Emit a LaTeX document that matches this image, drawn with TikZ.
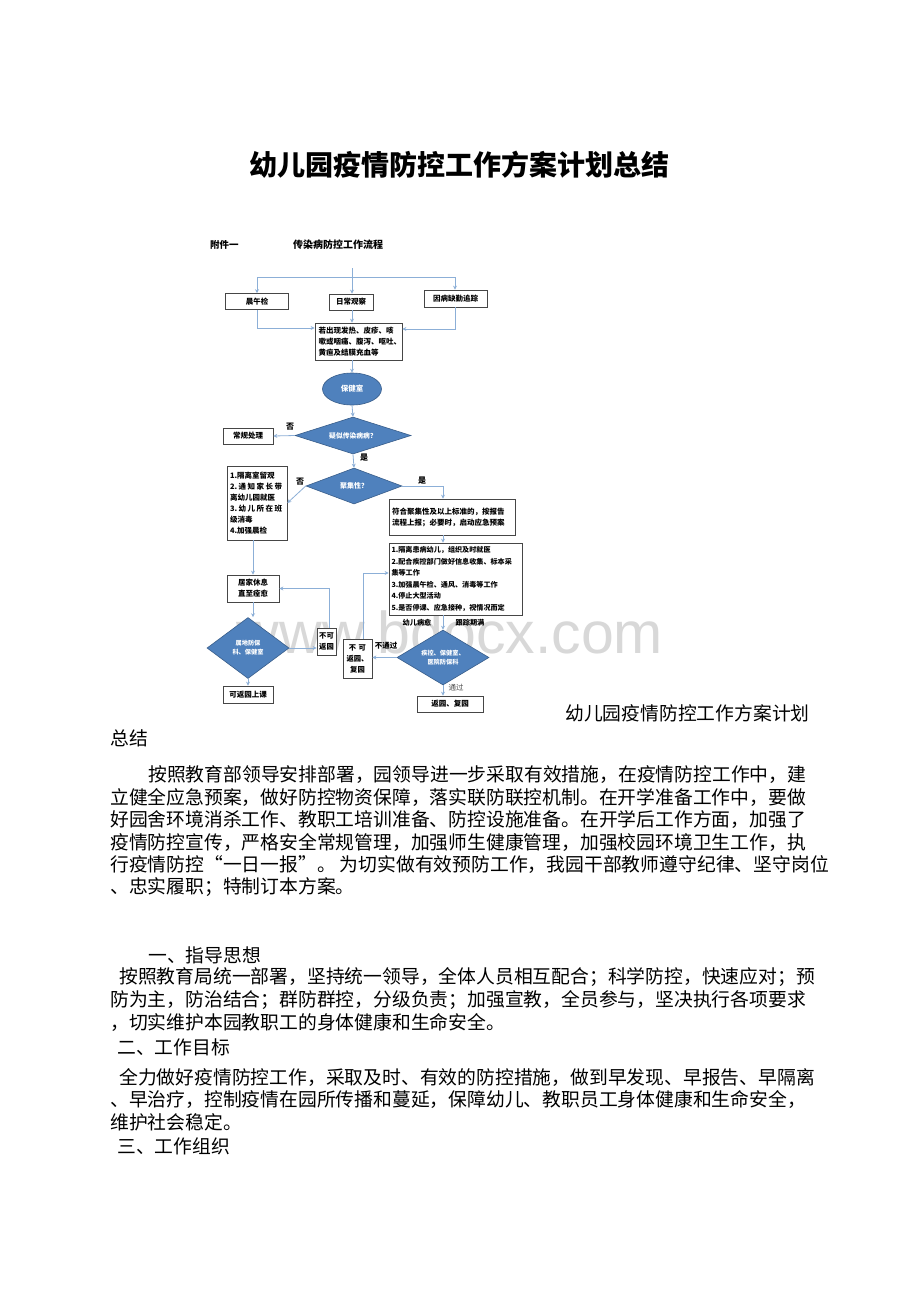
\documentclass[tikz,border=0pt]{standalone}
\usepackage{fontspec}
\setmainfont{Noto Sans CJK SC}
\newfontfamily\wmfont{Liberation Sans}
\usetikzlibrary{shapes.geometric,arrows.meta,calc}
\definecolor{conn}{RGB}{140,175,215}
\definecolor{dfill}{RGB}{79,129,189}
\definecolor{dline}{RGB}{56,93,138}
\definecolor{boxline}{RGB}{70,70,70}
\definecolor{wmgray}{RGB}{216,216,216}
\tikzset{
  body/.style={anchor=west,inner sep=0pt,font=\fontsize{18.8}{22}\selectfont},
  box/.style={draw=boxline,line width=0.7pt,fill=white,inner sep=1pt,font=\bfseries\fontsize{7.5}{11}\selectfont},
  dia/.style={diamond,draw=dline,line width=0.6pt,fill=dfill,inner sep=0pt},
  wtext/.style={text=white,font=\bfseries\fontsize{6.2}{9}\selectfont,align=center,inner sep=0pt},
  lab/.style={inner sep=0pt,font=\bfseries\fontsize{8}{10}\selectfont},
  conn/.style={draw=conn,line width=0.8pt},
  arr/.style={conn,-{Stealth[length=4pt,width=4pt]}},
}
\newcommand{\jline}[1]{\leavevmode\hbox to 52pt{#1}}
\begin{document}
\begin{tikzpicture}[x=1pt,y=-1pt]
\useasboundingbox[fill=white] (0,0) rectangle (920,1302);
% watermark (behind the chart)
\node[inner sep=0pt,font=\wmfont\fontsize{59}{60}\selectfont,text=wmgray] (wm) at (450,632) {www.bdocx.com};
% title
\node[inner sep=0pt,font=\bfseries\fontsize{28}{32}\selectfont] (title) at (459,165) {幼儿园疫情防控工作方案计划总结};
% flowchart header
\node[lab,anchor=west,font=\bfseries\fontsize{9.5}{11}\selectfont] (fj) at (210,245) {附件一};
\node[lab,anchor=west,font=\bfseries\fontsize{10}{11}\selectfont] (lc) at (293,245) {传染病防控工作流程};
% boxes
\node[box,minimum width=63pt,minimum height=16pt] (b1) at (257,301.5) {晨午检};
\node[box,minimum width=44pt,minimum height=16pt] (b2) at (351,302) {日常观察};
\node[box,minimum width=63pt,minimum height=17pt] (b3) at (455.5,298.5) {因病缺勤追踪};
\node[box,minimum width=87pt,minimum height=37pt,align=left,text width=80pt] (sym) at (358.5,341.5) {若出现发热、皮疹、咳\\嗽或咽痛、腹泻、呕吐、\\黄疸及结膜充血等};
\node[ellipse,draw=dline,line width=0.6pt,fill=dfill,minimum width=59pt,minimum height=32pt,inner sep=0pt] (hc) at (352,389) {};
\node[wtext,font=\bfseries\fontsize{7.5}{9}\selectfont] (hct) at (hc) {保健室};
\node[dia,minimum width=116pt,minimum height=37pt] (d1) at (353,435.5) {};
\node[wtext,font=\bfseries\fontsize{6.8}{9}\selectfont] (d1t) at (d1) {疑似传染病病？};
\node[box,minimum width=50pt,minimum height=16pt] (cg) at (248,436) {常规处理};
\node[dia,minimum width=96pt,minimum height=36pt] (d2) at (354,486) {};
\node[wtext,font=\bfseries\fontsize{7}{9}\selectfont] (d2t) at (d2) {聚集性？};
\node[box,minimum width=60pt,minimum height=74pt,align=left,text width=54pt] (iso) at (257,503) {1.隔离室留观\\\jline{2.\hfill 通\hfill 知\hfill 家\hfill 长\hfill 带}\\离幼儿园就医\\\jline{3.\hfill 幼\hfill 儿\hfill 所\hfill 在\hfill 班}\\级消毒\\4.加强晨检};
\node[box,minimum width=126pt,minimum height=36pt,align=left,text width=120pt] (rep) at (452,517) {符合聚集性及以上标准的，按报告\\流程上报；必要时，启动应急预案};
\node[box,minimum width=133pt,minimum height=72pt,align=left,text width=128pt,font=\bfseries\fontsize{7.1}{11.5}\selectfont] (act) at (455.5,579) {1.隔离患病幼儿，组织及时就医\\2.配合疾控部门做好信息收集、标本采\\集等工作\\3.加强晨午检、通风、消毒等工作\\4.停止大型活动\\5.是否停课、应急接种，视情况而定};
\node[box,minimum width=52pt,minimum height=27pt,align=center] (home) at (253,588.5) {居家休息\\直至痊愈};
\node[dia,minimum width=82pt,minimum height=61pt] (d3) at (248,648) {};
\node[wtext] (d3t) at (d3) {属地防保\\科、保健室};
\node[box,minimum width=50pt,minimum height=17pt] (back) at (248,694.5) {可返园上课};
\node[box,minimum width=19pt,minimum height=27pt,align=center,inner sep=0pt,font=\bfseries\fontsize{7.3}{11}\selectfont] (n1) at (326.5,641.5) {不可\\返园};
\node[box,minimum width=29pt,minimum height=39pt,align=center,inner sep=0pt,font=\bfseries\fontsize{7.3}{11}\selectfont] (n2) at (357.5,658.5) {不\,\,可\\返园、\\复园};
\node[dia,minimum width=92pt,minimum height=55pt] (d4) at (443,657.5) {};
\node[wtext] (d4t) at (d4) {疾控、保健室、\\医院防保科};
\node[box,minimum width=66pt,minimum height=16pt] (ret) at (450,704) {返园、复园};
% connectors
\coordinate (top) at (352,268);
\coordinate (tl) at (257,277);
\coordinate (tc) at (352,277);
\coordinate (tr) at (455,277);
\draw[conn] (tl) -- (tr);
\draw[conn] (top) -- (tc);
\draw[arr] (tl) -- (b1.north);
\draw[arr] (tc) -- (tc |- b2.north);
\draw[arr] (tr) -- (tr |- b3.north);
\coordinate (l1) at (sym.west |- 0,328);
\coordinate (r1) at (sym.east |- 0,329);
\draw[arr] (b1.south) |- (l1);
\draw[arr] (tc |- b2.south) -- (tc |- sym.north);
\draw[arr] (tr |- b3.south) |- (r1);
\draw[arr] (hc.north |- sym.south) -- (hc.north);
\draw[arr] (hc.south) -- (d1.north);
\draw[arr] (d1.west) -- (cg.east);
\node[lab] (no1) at (290,427) {否};
\draw[arr] (d1.south) -- (d2.north);
\node[lab] (yes1) at (364,458) {是};
\draw[arr] (d2.west) -- (iso.east);
\node[lab] (no2) at (300,482) {否};
\coordinate (rt) at (443,0);
\draw[arr] (d2.east) -| (rt |- rep.north);
\node[lab] (yes2) at (422,481) {是};
\draw[arr] (rt |- rep.south) -- (rt |- act.north);
\draw[arr] (home.north |- iso.south) -- (home.north);
\draw[arr] (home.south) -- (home.south |- d3.north);
\draw[arr] (d3.east) -- (n1.west |- d3.east);
\draw[arr] (d3.south) -- (back.north);
\coordinate (v1) at (329,0);
\draw[arr] (v1 |- n1.north) |- (home.east);
\coordinate (v2) at (363,0);
\coordinate (a1) at (act.west |- 0,573);
\draw[arr] (v2 |- n2.north) |- (a1);
\draw[arr] (d4.west) -- (n2.east |- d4.west);
\node[lab,font=\bfseries\fontsize{7.5}{9}\selectfont] (ntg) at (386,646) {不通过};
\draw[arr] (d4.north |- act.south) -- (d4.north);
\node[lab,font=\bfseries\fontsize{7.2}{9}\selectfont] (ly) at (417,623) {幼儿病愈};
\node[lab,font=\bfseries\fontsize{7.2}{9}\selectfont] (lg) at (470,623) {跟踪期满};
\draw[arr] (d4.south) -- (d4.south |- ret.north);
\node[lab,font=\fontsize{7.5}{9}\selectfont,text=black!70] (tg) at (456,688) {通过};
% caption after figure
\node[body] (c1) at (565,713) {幼儿园疫情防控工作方案计划};
\node[body] (c2) at (110,738) {总结};
% paragraph
\node[body] (p1) at (148,775) {按照教育部领导安排部署，园领导进一步采取有效措施，在疫情防控工作中，建};
\node[body] (p2) at (110,797.5) {立健全应急预案，做好防控物资保障，落实联防联控机制。在开学准备工作中，要做};
\node[body] (p3) at (110,820) {好园舍环境消杀工作、教职工培训准备、防控设施准备。在开学后工作方面，加强了};
\node[body] (p4) at (110,842.5) {疫情防控宣传，严格安全常规管理，加强师生健康管理，加强校园环境卫生工作，执};
\node[body] (p5) at (110,865) {行疫情防控“一日一报”。 为切实做有效预防工作，我园干部教师遵守纪律、坚守岗位};
\node[body] (p6) at (110,887.5) {、忠实履职；特制订本方案。};
% section 1
\node[body] (h1) at (148,955) {一、指导思想};
\node[body] (q1) at (119,977.5) {按照教育局统一部署，坚持统一领导，全体人员相互配合；科学防控，快速应对；预};
\node[body] (q2) at (110,1000) {防为主，防治结合；群防群控，分级负责；加强宣教，全员参与，坚决执行各项要求};
\node[body] (q3) at (110,1022.5) {，切实维护本园教职工的身体健康和生命安全。};
\node[body] (h2) at (117,1047) {二、工作目标};
\node[body] (r1t) at (119,1077) {全力做好疫情防控工作，采取及时、有效的防控措施，做到早发现、早报告、早隔离};
\node[body] (r2t) at (110,1099.5) {、早治疗，控制疫情在园所传播和蔓延，保障幼儿、教职员工身体健康和生命安全，};
\node[body] (r3t) at (110,1122) {维护社会稳定。};
\node[body] (h3) at (117,1146) {三、工作组织};
\end{tikzpicture}
\end{document}
